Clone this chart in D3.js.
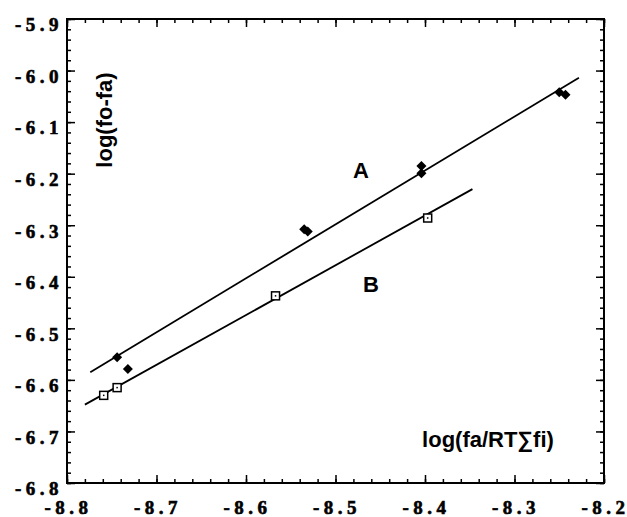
<!DOCTYPE html>
<html lang="en">
<head>
<meta charset="utf-8">
<title>log(fo-fa) vs log(fa/RTΣfi)</title>
<script src="https://cdn.jsdelivr.net/npm/d3@7"></script>
<style>
  body { margin: 0; background: #fff; }
  .axis path { display: none; }
  .axis line { stroke: #000; stroke-width: 1.5px; }
  .ttl { font-family: "Liberation Sans", Arial, sans-serif; font-weight: bold; font-size: 22px; }
</style>
</head>
<body>
<svg width="627" height="517"></svg>
<script>

// data
var seriesA_x = [-8.744, -8.732, -8.535, -8.531, -8.404, -8.404, -8.250, -8.243];
var seriesA_y = [-6.556, -6.579, -6.308, -6.312, -6.185, -6.199, -6.042, -6.047];
var seriesB_x = [-8.759, -8.744, -8.567, -8.397];
var seriesB_y = [-6.630, -6.615, -6.437, -6.286];

// fitted lines, end points
var lineA_x = [-8.774, -8.228];
var lineA_y = [-6.585, -6.014];
var lineB_x = [-8.780, -8.347];
var lineB_y = [-6.648, -6.230];

var xTicks = [-8.8, -8.7, -8.6, -8.5, -8.4, -8.3, -8.2];
var yTicks = [-5.9, -6.0, -6.1, -6.2, -6.3, -6.4, -6.5, -6.6, -6.7, -6.8];

var svg = d3.select("svg");

var x = d3.scaleLinear().domain([-8.8, -8.2]).range([67, 604]),
    y = d3.scaleLinear().domain([-6.8, -5.9]).range([483, 19]);

var xMinor = d3.range(0, 31).map(function(i) { return -8.8 + i * 0.02; });
var yMinor = d3.range(0, 46).map(function(i) { return -6.8 + i * 0.02; });

// plain hyphen instead of d3's unicode minus
var fmt = function(d) { return d.toFixed(1).replace("\u2212", "-"); };

function styleLabels(sel) {
  sel.attr("font-family", "'Liberation Serif', 'Times New Roman', serif")
     .attr("font-weight", "bold")
     .attr("font-size", "19px")
     .attr("letter-spacing", "4.5px")
     .attr("fill", "#000")
     .attr("stroke", "#000")
     .attr("stroke-width", 0.6);
}

// minor ticks, all four sides, pointing inward
svg.append("g").attr("class", "axis").attr("transform", "translate(0,483)")
   .call(d3.axisBottom(x).tickValues(xMinor).tickSizeInner(-4).tickSizeOuter(0).tickFormat(""));
svg.append("g").attr("class", "axis").attr("transform", "translate(0,19)")
   .call(d3.axisTop(x).tickValues(xMinor).tickSizeInner(-4).tickSizeOuter(0).tickFormat(""));
svg.append("g").attr("class", "axis").attr("transform", "translate(67,0)")
   .call(d3.axisLeft(y).tickValues(yMinor).tickSizeInner(-4).tickSizeOuter(0).tickFormat(""));
svg.append("g").attr("class", "axis").attr("transform", "translate(604,0)")
   .call(d3.axisRight(y).tickValues(yMinor).tickSizeInner(-4).tickSizeOuter(0).tickFormat(""));

// major ticks with labels
var gx = svg.append("g").attr("class", "axis").attr("transform", "translate(0,483)")
   .call(d3.axisBottom(x).tickValues(xTicks).tickSizeInner(-8).tickSizeOuter(0).tickFormat(fmt));
gx.selectAll("text").attr("y", 31).attr("dy", null).attr("dx", 1).call(styleLabels);

var gy = svg.append("g").attr("class", "axis").attr("transform", "translate(67,0)")
   .call(d3.axisLeft(y).tickValues(yTicks).tickSizeInner(-8).tickSizeOuter(0).tickFormat(fmt));
gy.selectAll("text").attr("x", -4).attr("dy", "0.62em").call(styleLabels);

svg.append("g").attr("class", "axis").attr("transform", "translate(604,0)")
   .call(d3.axisRight(y).tickValues(yTicks).tickSizeInner(-8).tickSizeOuter(0).tickFormat(""));
svg.append("g").attr("class", "axis").attr("transform", "translate(0,19)")
   .call(d3.axisTop(x).tickValues(xTicks).tickSizeInner(-8).tickSizeOuter(0).tickFormat(""));

// frame
svg.append("rect")
   .attr("x", x(-8.8)).attr("y", y(-5.9))
   .attr("width", x(-8.2) - x(-8.8)).attr("height", y(-6.8) - y(-5.9))
   .attr("fill", "none").attr("stroke", "#000").attr("stroke-width", 2);

// regression lines
var line = d3.line().x(function(d) { return x(d[0]); }).y(function(d) { return y(d[1]); });
svg.append("path").datum(d3.zip(lineA_x, lineA_y)).attr("d", line)
   .attr("fill", "none").attr("stroke", "#000").attr("stroke-width", 1.8);
svg.append("path").datum(d3.zip(lineB_x, lineB_y)).attr("d", line)
   .attr("fill", "none").attr("stroke", "#000").attr("stroke-width", 1.8);

// series A: filled diamonds
svg.selectAll(".ptA")
   .data(d3.zip(seriesA_x, seriesA_y))
   .enter().append("path")
   .attr("class", "ptA")
   .attr("d", d3.symbol().type(d3.symbolDiamond2).size(64))
   .attr("transform", function(d) { return "translate(" + x(d[0]) + "," + y(d[1]) + ")"; })
   .attr("fill", "#000");

// series B: open squares with a centre dot
var ptB = svg.selectAll(".ptB")
   .data(d3.zip(seriesB_x, seriesB_y))
   .enter().append("g")
   .attr("class", "ptB")
   .attr("transform", function(d) { return "translate(" + x(d[0]) + "," + y(d[1]) + ")"; });
ptB.append("rect").attr("x", -4).attr("y", -4).attr("width", 8).attr("height", 8)
   .attr("fill", "#fff").attr("stroke", "#000").attr("stroke-width", 1.5);
ptB.append("rect").attr("x", -0.75).attr("y", -0.75).attr("width", 1.5).attr("height", 1.5).attr("fill", "#000");

// labels
svg.append("text").attr("class", "ttl").attr("x", 361).attr("y", 178)
   .attr("text-anchor", "middle").text("A");
svg.append("text").attr("class", "ttl").attr("x", 371).attr("y", 292)
   .attr("text-anchor", "middle").text("B");
svg.append("text").attr("class", "ttl")
   .attr("transform", "translate(112,120) rotate(-90)")
   .attr("text-anchor", "middle").text("log(fo-fa)");
svg.append("text").attr("class", "ttl").attr("x", 488).attr("y", 447)
   .attr("text-anchor", "middle").text("log(fa/RT∑fi)");

</script>
</body>
</html>
